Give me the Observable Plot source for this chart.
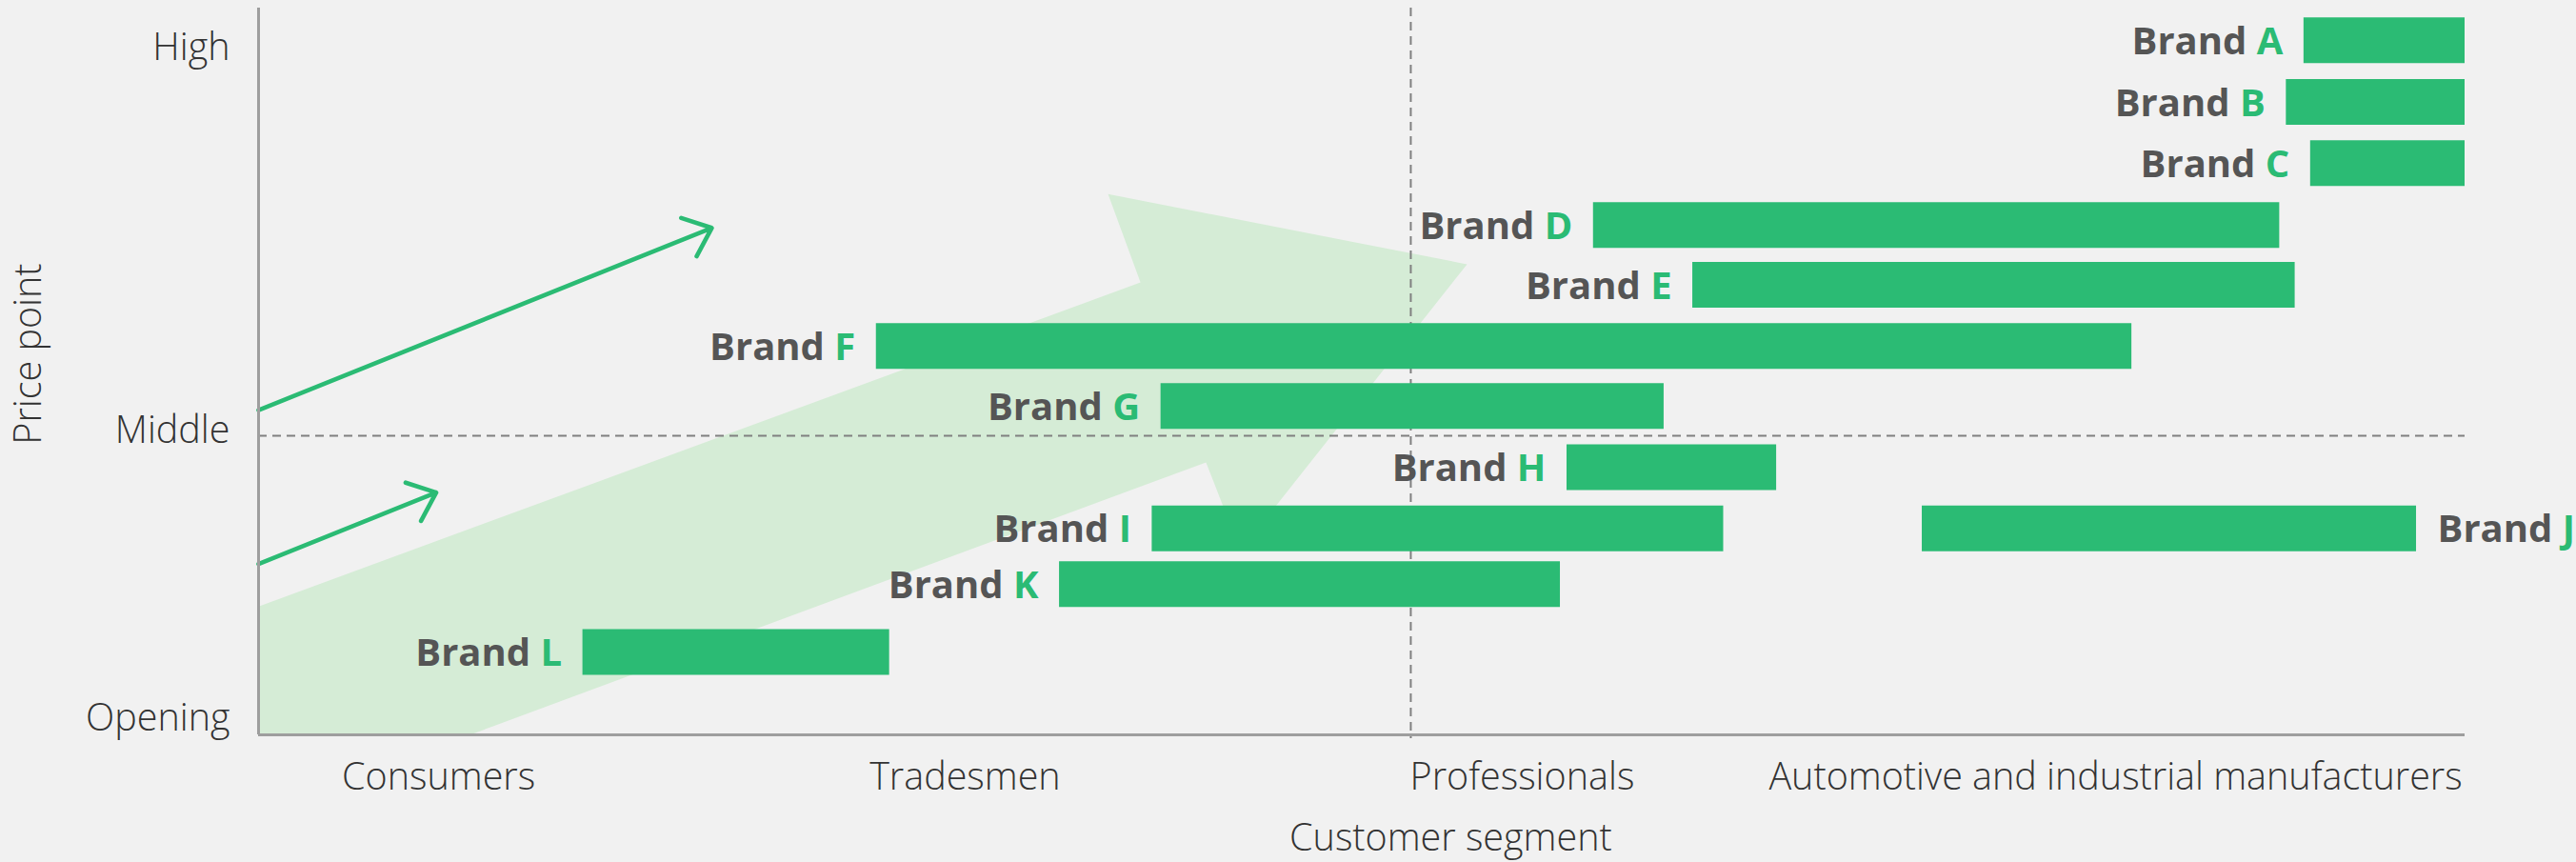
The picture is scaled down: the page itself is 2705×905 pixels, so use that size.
<!DOCTYPE html>
<html><head><meta charset="utf-8">
<script src="https://cdn.jsdelivr.net/npm/d3@7"></script>
<script src="https://cdn.jsdelivr.net/npm/@observablehq/plot@0.6"></script>
<style>
html,body{margin:0;padding:0;background:#f1f1f1;}
#chart svg{display:block;overflow:visible}
</style></head><body><div id="chart"></div>
<script>
// Brand positioning: price level (y) and customer-segment span (x, 0–100)
const brands     = ["A","B","C","D","E","F","G","H","I","J","K","L"];
const priceLevel = [11.47,10.45,9.44,8.42,7.43,6.42,5.43,4.42,3.41,3.41,2.49,1.37];
const segStart   = [92.7,91.9,93.0,60.5,65.0,28.0,40.9,59.3,40.5,75.4,36.3,14.7];
const segEnd     = [100,100,100,91.6,92.3,84.9,63.7,68.8,66.4,97.8,59.0,28.6];
const labelSide  = ["left","left","left","left","left","left","left","left","left","right","left","left"];

// Axis categories
const yTickLabels = ["Opening","Middle","High"];
const yTickValues = [0.29,5.03,11.36];
const xTickLabels = ["Consumers","Tradesmen","Professionals","Automotive and industrial manufacturers"];
const xTickValues = [8.16,32.02,57.27,84.16];
const xTitle = "Customer segment";
const yTitle = "Price point";
const middleLevel = 4.94;
const professionalsBoundary = 52.22;

// Background trend arrow outline (data units)
const bigArrowX = [0,39.97,38.50,54.77,44.50,42.94,9.58,0];
const bigArrowY = [2.12,7.47,8.93,7.77,3.04,4.50,0,0];

// Thin trend arrows
const arrowX1 = [0,0];
const arrowY1 = [5.36,2.82];
const arrowX2 = [20.54,8.05];
const arrowY2 = [8.37,4.0];

const data = brands.map((b,i)=>({brand:b, level:priceLevel[i], start:segStart[i], end:segEnd[i], side:labelSide[i]}));
const bigArrow = bigArrowX.map((x,i)=>({x, y:bigArrowY[i]}));
const arrows = arrowX1.map((x,i)=>({x1:x, y1:arrowY1[i], x2:arrowX2[i], y2:arrowY2[i]}));
const yTicks = yTickValues.map((v,i)=>({v, label:yTickLabels[i]}));
const xTicks = xTickValues.map((v,i)=>({v, label:xTickLabels[i]}));

const GREEN = "#2bbb74";
const GRAY_TEXT = "#555555";
const FONT = "'Open Sans', 'Noto Sans', sans-serif";
const AX_FS = 39.5;

const chart = Plot.plot({
  width: 2705, height: 905,
  marginLeft: 271, marginRight: 117, marginTop: 8, marginBottom: 134,
  x: {domain:[0,100], axis:null},
  y: {domain:[0,12], axis:null},
  style: {background:"#f1f1f1", fontFamily: FONT, overflow:"visible"},
  marks: [
    Plot.line(bigArrow, {x:"x", y:"y", fill:"#d5ecd6", stroke:"none", curve:"linear-closed"}),
    Plot.ruleX([professionalsBoundary], {stroke:"#808080", strokeWidth:2, strokeDasharray:"9,6", insetBottom:-4}),
    Plot.ruleY([middleLevel], {stroke:"#808080", strokeWidth:2, strokeDasharray:"9,6"}),
    Plot.arrow(arrows, {x1:"x1", y1:"y1", x2:"x2", y2:"y2", stroke:GREEN, strokeWidth:4.6, headAngle:80, headLength:11}),
    Plot.ruleX([0], {stroke:"#9e9e9e", strokeWidth:3}),
    Plot.ruleY([0], {stroke:"#9e9e9e", strokeWidth:3}),
    Plot.ruleY(data, {y:"level", x1:"start", x2:"end", stroke:GREEN, strokeWidth:48}),
    Plot.text(data.filter(d=>d.side==="left"), {x:"start", y:"level", text:d=>"Brand "+d.brand, textAnchor:"end", lineAnchor:"middle", dx:-22, dy:2, fontSize:40, fontWeight:700, fill:GRAY_TEXT, className:"brand-label"}),
    Plot.text(data.filter(d=>d.side==="right"), {x:"end", y:"level", text:d=>"Brand "+d.brand, textAnchor:"start", lineAnchor:"middle", dx:22, dy:2, fontSize:40, fontWeight:700, fill:GRAY_TEXT, className:"brand-label"}),
    Plot.text(yTicks, {x:0, y:"v", text:"label", textAnchor:"end", lineAnchor:"middle", dx:-30, dy:1, fontSize:AX_FS, fontWeight:300, fill:"#333"}),
    Plot.text(xTicks, {x:"v", y:0, text:"label", textAnchor:"middle", lineAnchor:"middle", dy:45, fontSize:AX_FS, fontWeight:300, fill:"#333"}),
    Plot.text([xTitle], {x:54.03, y:0, text:d=>d, textAnchor:"middle", lineAnchor:"middle", dy:109, fontSize:AX_FS, fontWeight:300, fill:"#333"}),
    Plot.text([yTitle], {x:-10.4, y:6.29, text:d=>d, rotate:-90, textAnchor:"middle", lineAnchor:"middle", fontSize:AX_FS, fontWeight:300, fill:"#333"})
  ]
});

// colour the brand letter green
d3.select(chart).selectAll(".brand-label text").each(function(){
  const t = this.textContent;
  const letter = t.slice(6);
  const sel = d3.select(this);
  sel.text(null);
  sel.append("tspan").attr("fill", GRAY_TEXT).text("Brand ");
  sel.append("tspan").attr("fill", GREEN).text(letter);
});

document.getElementById("chart").appendChild(chart);
</script></body></html>
